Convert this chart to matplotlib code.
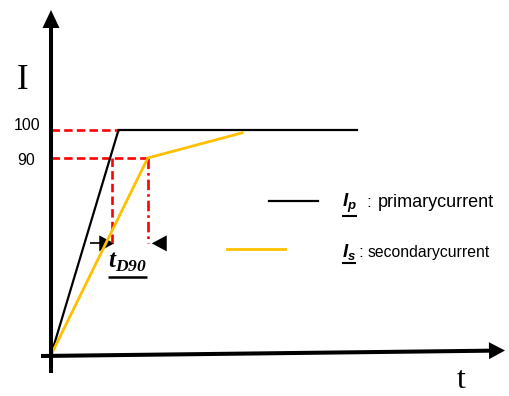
import matplotlib
matplotlib.use('Agg')
import matplotlib.pyplot as plt
from matplotlib.transforms import IdentityTransform
import numpy as np

plt.rcParams['mathtext.fontset'] = 'custom'
plt.rcParams['mathtext.rm'] = 'Liberation Sans'
plt.rcParams['mathtext.it'] = 'Liberation Sans:italic:bold'
plt.rcParams['mathtext.cal'] = 'Liberation Serif:italic:bold'

# ---- data (diagram units: time, current in %) ----
primary_t = [0, 30, 136]
primary_i = [0, 100, 100]
secondary_t = [0, 43, 85]
secondary_i = [0, 90, 99]
level_values = [100, 90]
level_labels = ['100', '90']
t90_primary = 27
t90_secondary = 43
marker_level = 51

BLACK = '#000000'
GOLD = '#FFC000'
RED = '#FF0000'

fig = plt.figure(figsize=(5.1, 3.96), dpi=100)
ax = fig.add_axes([0, 0, 1, 1])


# schematic current axis: the part above 90 % is drawn stretched, as in the sketch
def _fwd(v):
    v = np.asarray(v, float)
    return np.where(v <= 90, v * 197 / 90, 197 + (v - 90) * 2.8)


def _inv(p):
    p = np.asarray(p, float)
    return np.where(p <= 197, p * 90 / 197, 90 + (p - 197) / 2.8)


ax.set_yscale('function', functions=(_fwd, _inv))
ax.set_xlim(-22.67, 204)
ax.set_ylim(-18.73, 146.43)
ax.axis('off')

ID = IdentityTransform()


def to_px(x, y):
    return ax.transData.transform((x, y))


def arrow(p0, p1, head_len, head_half, lw, color='k', tail=True):
    """p0, p1 in pixel coordinates (display)."""
    p0 = np.asarray(p0, float)
    p1 = np.asarray(p1, float)
    d = p1 - p0
    d /= np.hypot(*d)
    n = np.array([-d[1], d[0]])
    base = p1 - d * head_len
    if tail:
        ax.plot([p0[0], base[0] + d[0]], [p0[1], base[1] + d[1]], color=color,
                lw=lw, transform=ID, solid_capstyle='butt')
    poly = np.array([p1, base + n * head_half, base - n * head_half])
    ax.fill(poly[:, 0], poly[:, 1], color=color, transform=ID, lw=0)


# ---- red guide lines ----
t100 = primary_t[1]
ax.plot([0, t100], [level_values[0]] * 2, color=RED, lw=1.9, ls=(0, (3.2, 1.6)))
ax.plot([0, t90_secondary], [level_values[1]] * 2, color=RED, lw=1.9, ls=(0, (3.2, 1.6)))
ax.plot([t90_primary] * 2, [level_values[1], marker_level], color=RED, lw=1.9,
        ls=(0, (3.2, 1.6)))
ax.plot([t90_secondary] * 2, [level_values[1], marker_level], color=RED, lw=1.9,
        ls=(0, (4, 1.5, 1, 1.5)))

# ---- curves ----
ax.plot(primary_t, primary_i, color=BLACK, lw=1.6, solid_joinstyle='miter')
ax.plot(secondary_t, secondary_i, color=GOLD, lw=2.0, solid_joinstyle='miter')

# ---- axes with arrow heads (pixel space, y up from bottom of figure) ----
H = 396
arrow((51, H - 373), (51, H - 10), 18, 8.5, 2.9)
arrow((41, H - 356), (505, H - 350.5), 16, 8.5, 2.9)

ax.text(23, H - 89, 'I', transform=ID, family='Liberation Serif', fontsize=25,
        ha='center', va='baseline')
ax.text(461, H - 388, 't', transform=ID, family='Liberation Serif', fontsize=23,
        ha='center', va='baseline')

# level labels
for v, lab, dx, dy in zip(level_values, level_labels, [-11, -16], [5, -2]):
    ax.annotate(lab, (0, v), xytext=(dx, dy), textcoords='offset pixels',
                ha='right', va='center', fontsize=11.5, family='Liberation Sans')

# ---- t_D90 marker arrows ----
p_tip_l = to_px(t90_primary, marker_level) + np.array([2.5, 0])
arrow(p_tip_l - np.array([24, 0]), p_tip_l, 15, 8, 1.2)
p_tip_r = to_px(t90_secondary, marker_level) + np.array([4, 0])
arrow(p_tip_r + np.array([15, 0]), p_tip_r, 15, 8, 1.2, tail=False)

td = ax.text(108, H - 268, r'$\mathcal{t}_{\mathcal{D90}}$', transform=ID,
             fontsize=18, ha='left', va='baseline')

# ---- legend (drawn manually, like the original) ----
ax.plot([269, 318], [H - 201, H - 201], color=BLACK, lw=1.6, transform=ID)
ax.plot([227, 285], [H - 249, H - 249], color=GOLD, lw=2.0, transform=ID)
lp = ax.text(342, H - 207, r'$I_p$', transform=ID, fontsize=13.5, ha='left',
             va='baseline')
ls_ = ax.text(342, H - 257, r'$I_s$', transform=ID, fontsize=13.5, ha='left',
              va='baseline')
ax.text(366, H - 207, ':', transform=ID, fontsize=12.5, family='Liberation Sans',
        ha='left', va='baseline')
ax.text(378, H - 207, 'primarycurrent', transform=ID, fontsize=13,
        family='Liberation Sans', ha='left', va='baseline')
ax.text(358, H - 257, ':', transform=ID, fontsize=12.5, family='Liberation Sans',
        ha='left', va='baseline')
ax.text(368, H - 257, 'secondarycurrent', transform=ID, fontsize=11.3,
        family='Liberation Sans', ha='left', va='baseline')

fig.canvas.draw()
r = fig.canvas.get_renderer()


def underline(t, dy=2.0, lw=1.5):
    bb = t.get_window_extent(r)
    ax.plot([bb.x0, bb.x1], [bb.y0 - dy + 1, bb.y0 - dy + 1], color='k', lw=lw,
            transform=ID, solid_capstyle='butt')
    return bb


underline(lp)
underline(ls_)
underline(td, dy=4, lw=1.8)

fig.savefig('out.png', dpi=100)
